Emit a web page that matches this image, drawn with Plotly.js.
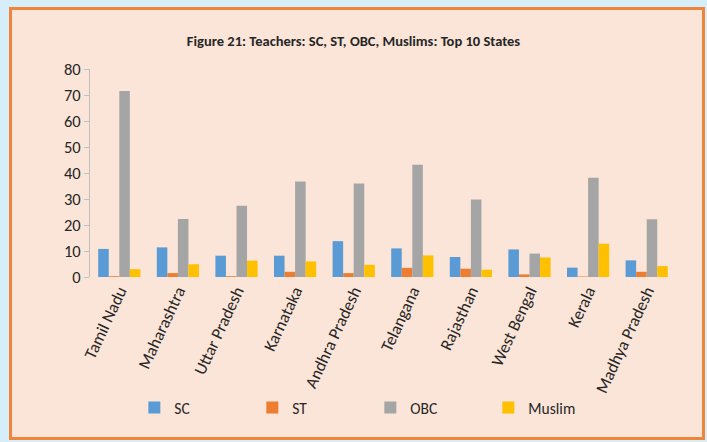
<!DOCTYPE html>
<html>
<head>
<meta charset="utf-8">
<script src="https://cdn.plot.ly/plotly-3.0.1.min.js"></script>
<style>
  html, body { margin: 0; padding: 0; background: #d5eefa; width: 707px; height: 442px; overflow: hidden; }
  #frame { position: absolute; left: 9px; top: 7px; width: 696px; height: 433px; box-sizing: border-box;
           border: 3px solid #ef853a; background: #fbe5d8; }
  #chart { position: absolute; left: 0; top: 0; width: 707px; height: 442px; }
</style>
</head>
<body>
<div id="frame"></div>
<div id="chart"></div>
<script>
const states = ["Tamil Nadu", "Maharashtra", "Uttar Pradesh", "Karnataka", "Andhra Pradesh",
                "Telangana", "Rajasthan", "West Bengal", "Kerala", "Madhya Pradesh"];
const sc     = [10.8, 11.4, 8.2, 8.2, 13.8, 11.0, 7.7, 10.6, 3.6, 6.4];
const st     = [0.3, 1.5, 0.3, 2.0, 1.5, 3.5, 3.2, 1.0, 0.2, 2.0];
const obc    = [71.5, 22.3, 27.4, 36.7, 36.0, 43.2, 29.8, 9.0, 38.2, 22.2];
const muslim = [3.0, 4.9, 6.3, 6.0, 4.7, 8.3, 2.8, 7.5, 12.8, 4.2];
const yTicks = [0, 10, 20, 30, 40, 50, 60, 70, 80];

const FONT = "Carlito, 'Liberation Sans Narrow', 'Open Sans', sans-serif";
const mk = (name, y, color) => ({ type: "bar", name, x: states, y, marker: { color } });

const data = [
  mk("SC", sc, "#5b9bd5"),
  mk("ST", st, "#ed7d31"),
  mk("OBC", obc, "#a5a5a5"),
  mk("Muslim", muslim, "#ffc000")
];

const layout = {
  width: 707, height: 442,
  paper_bgcolor: "rgba(0,0,0,0)", plot_bgcolor: "rgba(0,0,0,0)",
  margin: { l: 90, r: 31, t: 69, b: 165 },
  font: { family: FONT, color: "#262626", size: 16 },
  title: { text: "<b>Figure 21: Teachers: SC, ST, OBC, Muslims: Top 10 States</b>",
           x: 0.5, xref: "container", y: 1 - 41 / 442, yref: "container", yanchor: "middle",
           font: { family: FONT, size: 14.5, color: "#262626" } },
  barmode: "group", bargap: 0.28, bargroupgap: 0,
  showlegend: true,
  legend: { orientation: "h", xref: "container", yref: "container",
            x: 0.19, xanchor: "left", y: 1 - 408 / 442, yanchor: "middle",
            entrywidth: 73, entrywidthmode: "pixels", font: { family: FONT, size: 15.5 },
            itemwidth: 30, bgcolor: "rgba(0,0,0,0)", traceorder: "normal" },
  xaxis: { tickangle: -65, showgrid: false, showline: false, ticks: "", zeroline: false,
           automargin: false, tickfont: { family: FONT, size: 17 } },
  yaxis: { range: [0, 80], tickvals: yTicks, ticktext: yTicks.map(String), showgrid: false,
           automargin: false,
           showline: true, linecolor: "#bfbfbf", linewidth: 1, ticks: "outside", ticklen: 5,
           tickcolor: "#bfbfbf", zeroline: false, tickfont: { family: FONT, size: 16.5 } }
};

Plotly.newPlot("chart", data, layout, { displayModeBar: false, staticPlot: true });
</script>
</body>
</html>
